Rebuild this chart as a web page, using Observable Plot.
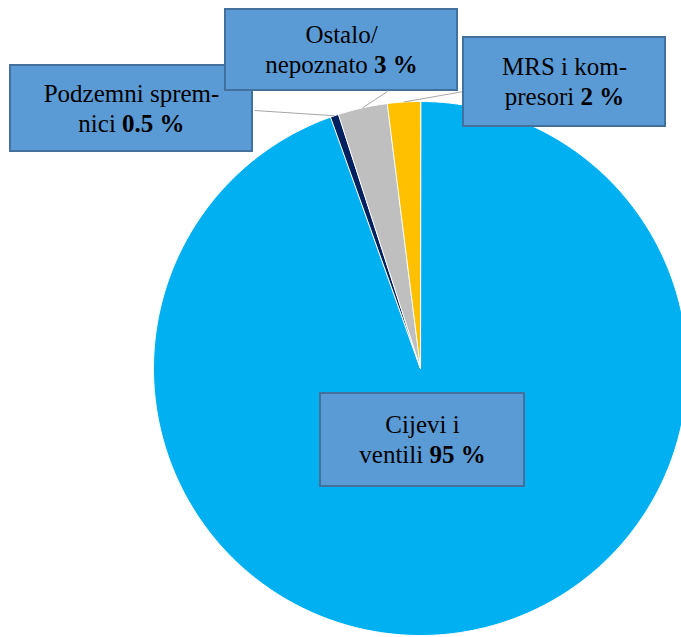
<!DOCTYPE html>
<html>
<head>
<meta charset="utf-8">
<script src="https://cdn.jsdelivr.net/npm/d3@7"></script>
<script src="https://cdn.jsdelivr.net/npm/@observablehq/plot@0.6"></script>
<style>
  html, body { margin: 0; padding: 0; background: #fff; overflow: hidden; }
  #chart svg { display: block; }
</style>
</head>
<body>
<div id="chart"></div>
<script>
// ---- data ----
const categories = ["Cijevi i ventili", "Podzemni spremnici", "Ostalo/nepoznato", "MRS i kompresori"];
const values = [95, 0.5, 3, 2];
const colors = ["#00B0F0", "#002060", "#BFBFBF", "#FFC000"];
const labelLine1 = ["Cijevi i", "Podzemni sprem-", "Ostalo/", "MRS i kom-"];
const labelLine2 = ["ventili", "nici", "nepoznato", "presori"];

// ---- layout (pixels) ----
const W = 681, H = 637;
const pie = {cx: 420, cy: 368, r: 267};
const boxes = [[320, 393, 524, 486], [10, 65, 252, 151], [225, 9, 457, 90], [463, 37, 665, 126]];
const leaderStart = [null, [254, 110], [387, 91], [463, 91]];
const FONT = 25, LINE = 30;

// pixel -> unit coordinates of the pie's scales
const ux = px => (px - pie.cx) / pie.r;
const uy = py => (pie.cy - py) / pie.r;

// slice geometry from data
const arcs = d3.pie().sort(null).value(d => d.value)(categories.map((name, i) => ({name, value: values[i]})));
const slicePts = [];
arcs.forEach(a => {
  slicePts.push({name: a.data.name, x: 0, y: 0});
  const n = Math.max(2, Math.ceil((a.endAngle - a.startAngle) / (Math.PI / 360)));
  for (let k = 0; k <= n; k++) {
    const t = a.startAngle + (a.endAngle - a.startAngle) * k / n;
    slicePts.push({name: a.data.name, x: Math.sin(t), y: Math.cos(t)});
  }
});

// leaders: from box to slice outer edge at mid angle
const leaders = [];
arcs.forEach((a, i) => {
  if (!leaderStart[i]) return;
  const m = (a.startAngle + a.endAngle) / 2;
  leaders.push({x1: ux(leaderStart[i][0]), y1: uy(leaderStart[i][1]), x2: Math.sin(m), y2: Math.cos(m)});
});

// label boxes and text
const ctx = document.createElement("canvas").getContext("2d");
const measure = (s, bold) => { ctx.font = `${bold ? "bold " : ""}${FONT}px "Liberation Serif"`; return ctx.measureText(s).width; };
const boxData = [], line1 = [], line2n = [], line2b = [];
categories.forEach((name, i) => {
  const [x1, y1, x2, y2] = boxes[i];
  boxData.push({x1: ux(x1), x2: ux(x2), y1: uy(y1), y2: uy(y2)});
  const cx = (x1 + x2) / 2, cy = (y1 + y2) / 2;
  line1.push({x: ux(cx), y: uy(cy - LINE / 2), text: labelLine1[i]});
  const bold = `${values[i]} %`;
  const wN = measure(labelLine2[i] + " ", false), wB = measure(bold, true), wS = measure(" ", false);
  const split = cx + (wN - wB) / 2;
  line2n.push({x: ux(split - wS), y: uy(cy + LINE / 2), text: labelLine2[i]});
  line2b.push({x: ux(split), y: uy(cy + LINE / 2), text: bold});
});

const fontFamily = '"Liberation Serif", "Times New Roman", serif';
const chart = Plot.plot({
  width: W, height: H, margin: 0,
  style: {background: "white", fontFamily},
  x: {domain: [-1, 1], range: [pie.cx - pie.r, pie.cx + pie.r], axis: null},
  y: {domain: [-1, 1], range: [pie.cy + pie.r, pie.cy - pie.r], axis: null},
  color: {domain: categories, range: colors},
  marks: [
    Plot.line(slicePts, {x: "x", y: "y", z: "name", fill: "name", stroke: "white", strokeWidth: 1, curve: "linear-closed"}),
    Plot.link(leaders, {x1: "x1", y1: "y1", x2: "x2", y2: "y2", stroke: "#A6A6A6", strokeWidth: 1}),
    Plot.rect(boxData, {x1: "x1", x2: "x2", y1: "y1", y2: "y2", fill: "#5B9BD5", stroke: "#41719C", strokeWidth: 2}),
    Plot.text(line1, {x: "x", y: "y", text: "text", fontSize: FONT, fill: "black", textAnchor: "middle", lineAnchor: "middle"}),
    Plot.text(line2n, {x: "x", y: "y", text: "text", fontSize: FONT, fill: "black", textAnchor: "end", lineAnchor: "middle"}),
    Plot.text(line2b, {x: "x", y: "y", text: "text", fontSize: FONT, fontWeight: "bold", fill: "black", textAnchor: "start", lineAnchor: "middle"})
  ]
});
document.getElementById("chart").appendChild(chart);
</script>
</body>
</html>
